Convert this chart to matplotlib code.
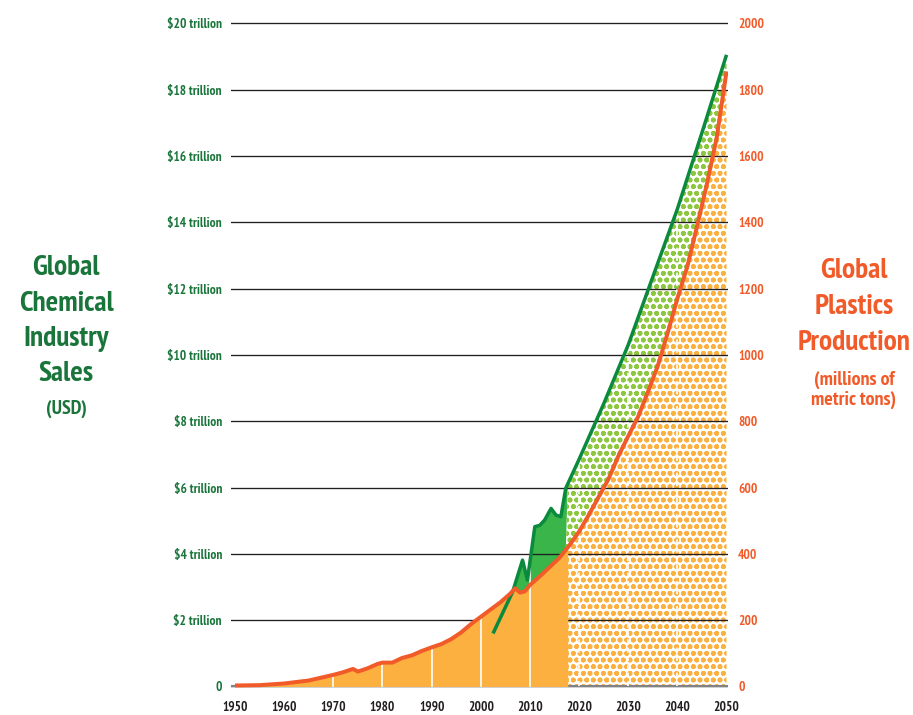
import numpy as np
import matplotlib
matplotlib.use('Agg')
import matplotlib.pyplot as plt
from matplotlib import font_manager as fm
from matplotlib.font_manager import FontProperties

# global plastics production, millions of metric tons (projection after ~2017)
plastics_years = [1950, 1955, 1960, 1965, 1970, 1972, 1974, 1975, 1977, 1979, 1980, 1982,
                  1984, 1986, 1988, 1990, 1992, 1994, 1996, 1998, 2000, 2002, 2004, 2006,
                  2007, 2008, 2009, 2010, 2012, 2014, 2016, 2018, 2020, 2022, 2024, 2026,
                  2028, 2030, 2032, 2034, 2036, 2038, 2040, 2042, 2044, 2046, 2048, 2050]
plastics_mt = [3, 4, 9, 18, 35, 43, 53, 45, 55, 68, 72, 72,
               86, 94, 107, 118, 128, 143, 163, 188, 210, 232, 254, 280,
               296, 283, 287, 306, 332, 360, 388, 425, 467, 518, 572, 626,
               695, 755, 813, 888, 966, 1065, 1170, 1265, 1388, 1515, 1655, 1855]

# global chemical industry sales, trillion USD
chem_years = [2002.5, 2006.5, 2008.5, 2009.5, 2010, 2011, 2012, 2013, 2014.3, 2015.3,
              2016.3, 2017.3, 2020, 2025, 2030, 2035, 2040, 2045, 2050]
chem_sales = [1.6, 2.86, 3.81, 3.21, 3.75, 4.82, 4.86, 5.02, 5.37, 5.17,
              5.12, 5.98, 6.85, 8.52, 10.3, 12.35, 14.4, 16.7, 19.05]

sales_ticks = list(range(0, 21, 2))
sales_labels = ['0'] + ['$%d trillion' % v for v in range(2, 21, 2)]
plastics_ticks = list(range(0, 2001, 200))
decades = list(range(1950, 2051, 10))
projection_start = 2017.7

GREEN_TXT = '#1a753b'
ORANGE_TXT = '#f15a29'
ORANGE_FILL = '#fbb040'
GREEN_LINE = '#0b8a3e'
GREEN_FILL = '#39b54a'
GREEN_DOTS = '#8dc63f'
DARK = '#231f20'


def find_narrow_bold():
    # prefer a really narrow bold face; DejaVu condensed is only a last resort
    best = None
    for f in fm.fontManager.ttflist:
        name = (f.name + ' ' + f.fname).lower()
        if f.style != 'normal':
            continue
        try:
            w = int(f.weight)
        except ValueError:
            w = 700 if 'bold' in str(f.weight) else 400
        if w < 600 or w > 800:
            continue
        if 'narrow' in name:
            prio = 0
        elif 'dejavu' in name and ('condensed' in name or f.stretch != 'normal'):
            prio = 3
        elif 'condensed' in name or f.stretch in ('condensed', 'extra-condensed'):
            prio = 1
        elif f.stretch == 'semi-condensed':
            prio = 2
        else:
            continue
        if best is None or prio < best[0] or (prio == best[0] and w > best[1]):
            best = (prio, w, f.fname)
    return best


_found = find_narrow_bold()
NARROW = _found[2] if _found else None
# DejaVu condensed is still wide: shrink it so widths come near the reference
SHRINK = 1.0 if (_found and _found[0] < 3) else 0.82


def bold_font(size):
    if NARROW:
        return FontProperties(fname=NARROW, size=size * SHRINK)
    return FontProperties(family=['DejaVu Sans'], weight='bold', size=size * 0.7)


plt.rcParams['hatch.linewidth'] = 1.3

DPI = 120
fig = plt.figure(figsize=(913 / DPI, 715 / DPI), dpi=DPI)
ax = fig.add_axes([231 / 913, 1 - 689.8 / 715, 497 / 913, 669.8 / 715])
ax.set_xlim(1949.19, 2050.3)
ax.set_ylim(-0.1, 20.1)

# common x grid so the two series can be compared
grid_x = np.union1d(np.array(plastics_years, float), np.array(chem_years, float))
grid_x = np.union1d(grid_x, [projection_start])
plast = np.interp(grid_x, plastics_years, plastics_mt) / 100.0
past = grid_x <= projection_start
future = grid_x >= projection_start

ax.fill_between(grid_x, 0, plast, where=past, color=ORANGE_FILL, lw=0, zorder=2)
ax.fill_between(grid_x, 0, plast, where=future, facecolor='white', edgecolor=ORANGE_FILL,
                hatch='ooo', lw=0, zorder=1)

cx = grid_x[grid_x >= chem_years[0]]
chem = np.interp(cx, chem_years, chem_sales)
plast_c = np.interp(cx, plastics_years, plastics_mt) / 100.0
ax.fill_between(cx, plast_c, chem, where=(chem > plast_c) & (cx <= projection_start),
                interpolate=True, color=GREEN_FILL, lw=0, zorder=1)
ax.fill_between(cx, plast_c, chem, where=(chem > plast_c) & (cx >= projection_start),
                interpolate=True, facecolor='white', edgecolor=GREEN_DOTS, hatch='ooo',
                lw=0, zorder=1)

# white decade separators inside the filled area
for d in decades[2:-1]:
    top = np.interp(d, plastics_years, plastics_mt) / 100.0
    if d >= chem_years[0]:
        top = max(top, np.interp(d, chem_years, chem_sales))
    ls = '-' if d < projection_start else (0, (3, 2))
    ax.plot([d, d], [0, top], color='white', lw=1.0, ls=ls, zorder=2.2)

ax.plot(chem_years, chem_sales, color=GREEN_LINE, lw=2.1, zorder=3, solid_capstyle='butt')
ax.plot(plastics_years, np.array(plastics_mt) / 100.0, color=ORANGE_TXT, lw=2.4, zorder=3.1,
        solid_capstyle='butt', solid_joinstyle='round')

ax.set_axisbelow('line')
ax.yaxis.grid(True, color=DARK, lw=0.8)
ax.axhline(0, color='#808285', lw=1.3, zorder=1.6)

for s in ax.spines.values():
    s.set_visible(False)

tick_fp = bold_font(8.0)
ax.set_yticks(sales_ticks, labels=sales_labels, fontproperties=tick_fp, color=GREEN_TXT)
ax.set_xticks(decades, labels=[str(d) for d in decades], fontproperties=tick_fp, color=DARK)
ax.tick_params(axis='y', length=0, pad=5.4)
ax.tick_params(axis='x', length=0, pad=6.5)

sec = ax.secondary_yaxis('right', functions=(lambda s: s * 100, lambda p: p / 100))
sec.set_yticks(plastics_ticks, labels=[str(p) for p in plastics_ticks],
               fontproperties=tick_fp, color=ORANGE_TXT)
sec.tick_params(length=0, pad=6)
for s in sec.spines.values():
    s.set_visible(False)

# side titles
big = bold_font(17.6)
small = bold_font(12.0)
for txt, yb in zip(['Global', 'Chemical', 'Industry', 'Sales'], [275, 310.5, 346, 381]):
    fig.text(66 / 913, 1 - yb / 715, txt, fontproperties=big, color=GREEN_TXT,
             ha='center', va='baseline')
fig.text(66 / 913, 1 - 414 / 715, '(USD)', fontproperties=small, color=GREEN_TXT,
         ha='center', va='baseline')
for txt, yb in zip(['Global', 'Plastics', 'Production'], [278, 314, 350]):
    fig.text(854 / 913, 1 - yb / 715, txt, fontproperties=big, color=ORANGE_TXT,
             ha='center', va='baseline')
for txt, yb in zip(['(millions of', 'metric tons)'], [385, 405]):
    fig.text(854 / 913, 1 - yb / 715, txt, fontproperties=small, color=ORANGE_TXT,
             ha='center', va='baseline')

fig.savefig('out.png', dpi=DPI)
